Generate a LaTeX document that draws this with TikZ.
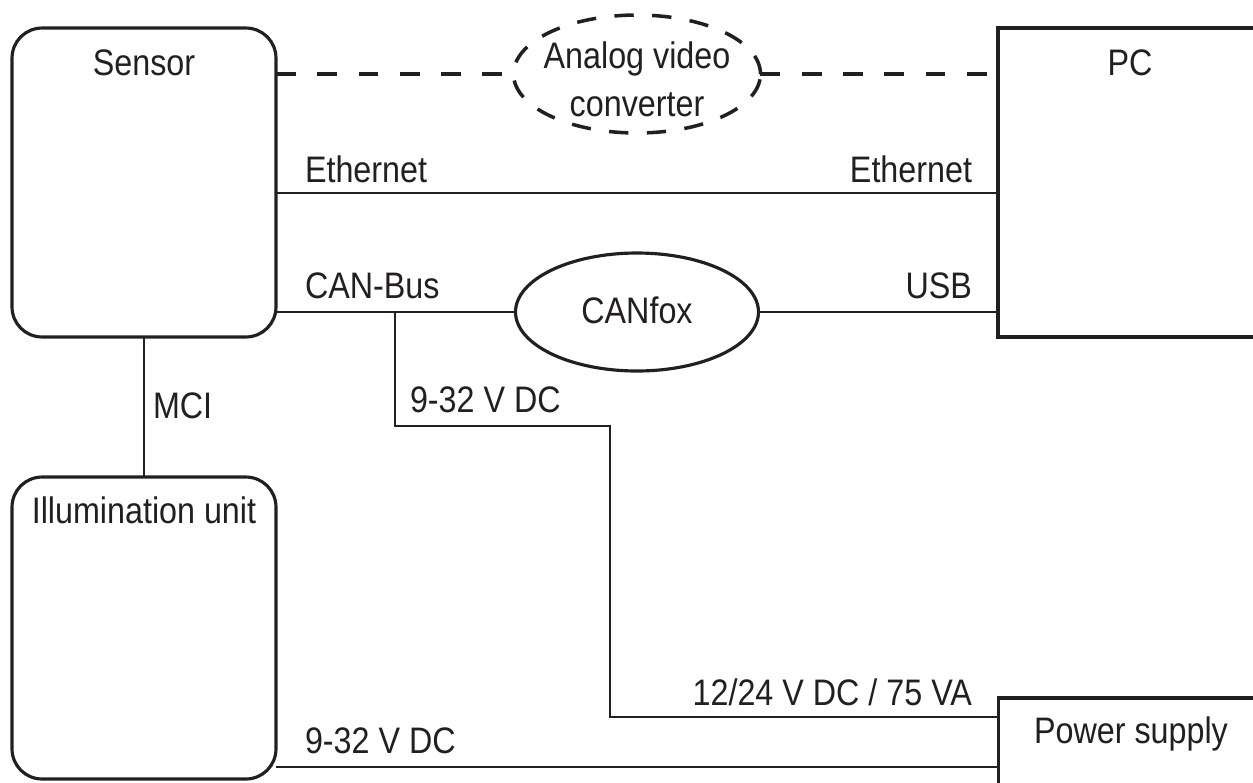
\documentclass[tikz,border=0pt]{standalone}
\usepackage{fontspec}
\setmainfont{Liberation Sans}[FakeStretch=0.875]
\usetikzlibrary{shapes.geometric,calc}
\definecolor{ink}{HTML}{231F20}
\begin{document}
\begin{tikzpicture}[x=0.02cm,y=-0.02cm,
  txt/.style={font=\fontsize{21}{25}\selectfont, text=ink, inner sep=0pt, outer sep=0pt},
  lblc/.style={txt, anchor=base},
  lbll/.style={txt, anchor=base west},
  lblr/.style={txt, anchor=base east},
  devbox/.style={draw=ink, line width=1.8pt, inner sep=0pt, outer sep=0pt},
  rdev/.style={devbox, rounded corners=0.6cm},
  oval/.style={ellipse, draw=ink, line width=1.8pt, inner sep=0pt, outer sep=0pt},
  wire/.style={draw=ink, line width=0.85pt},
  dwire/.style={draw=ink, line width=2pt, dash pattern=on 11.3pt off 12.2pt}
]
\fill[white] (0,0) rectangle (1253,782);
\useasboundingbox (0,0) rectangle (1253,782);

% devices
\node[rdev, minimum width=5.28cm, minimum height=6.18cm] (sensor) at (144,182.5) {};
\node[devbox, minimum width=5.28cm, minimum height=6.18cm] (pc) at (1130,182.5) {};
\node[rdev, minimum width=5.28cm, minimum height=6.04cm] (illum) at (144,628) {};
\node[devbox, minimum width=5.26cm, minimum height=2.2cm] (ps) at (1130,753) {};
\node[oval, line width=2pt, dash pattern=on 11pt off 10.5pt, minimum width=4.94cm, minimum height=2.36cm] (avc) at (637,74) {};
\node[oval, minimum width=4.86cm, minimum height=2.36cm] (canfox) at (637,312) {};

% texts
\node[lblc] (tsensor) at (144,75) {Sensor};
\node[lblc] (tpc) at (1130,75) {PC};
\node[lblc] (tavc1) at (637,68) {Analog video};
\node[lblc] (tavc2) at (637,116) {converter};
\node[lblc] (tcanfox) at (637,323) {CANfox};
\node[lblc] (tillum) at (144,523) {Illumination unit};
\node[lblc] (tps) at (1131,743) {Power supply};
\node[lbll] (teth1) at (305,182) {Ethernet};
\node[lblr] (teth2) at (972,182) {Ethernet};
\node[lbll] (tcan) at (305,298) {CAN-Bus};
\node[lblr] (tusb) at (972,298) {USB};
\node[lbll] (tv1) at (410,412) {9-32 V DC};
\node[lbll] (tmci) at (153,418) {MCI};
\node[lblr] (tv2) at (972,705) {12/24 V DC / 75 VA};
\node[lbll] (tv3) at (305,753) {9-32 V DC};

% helper coordinates
\coordinate (ethy) at (0,193);
\coordinate (tap) at (395,312);
\coordinate (bend) at (610,426);
\coordinate (psy) at (0,717);
\coordinate (lowy) at (0,767);

% connectors
\draw[dwire] (sensor.east |- avc.west) -- (avc.west);
\draw[dwire] (avc.east) -- (pc.west |- avc.east);
\draw[wire] (sensor.east |- ethy) -- (pc.west |- ethy);
\draw[wire] (sensor.east |- canfox.west) -- (canfox.west);
\draw[wire] (canfox.east) -- (pc.west |- canfox.east);
\draw[wire] (tap) |- (bend) |- (ps.west |- psy);
\draw[wire] (sensor.south) -- (illum.north);
\draw[wire] (illum.east |- lowy) -- (ps.west |- lowy);
\end{tikzpicture}
\end{document}
